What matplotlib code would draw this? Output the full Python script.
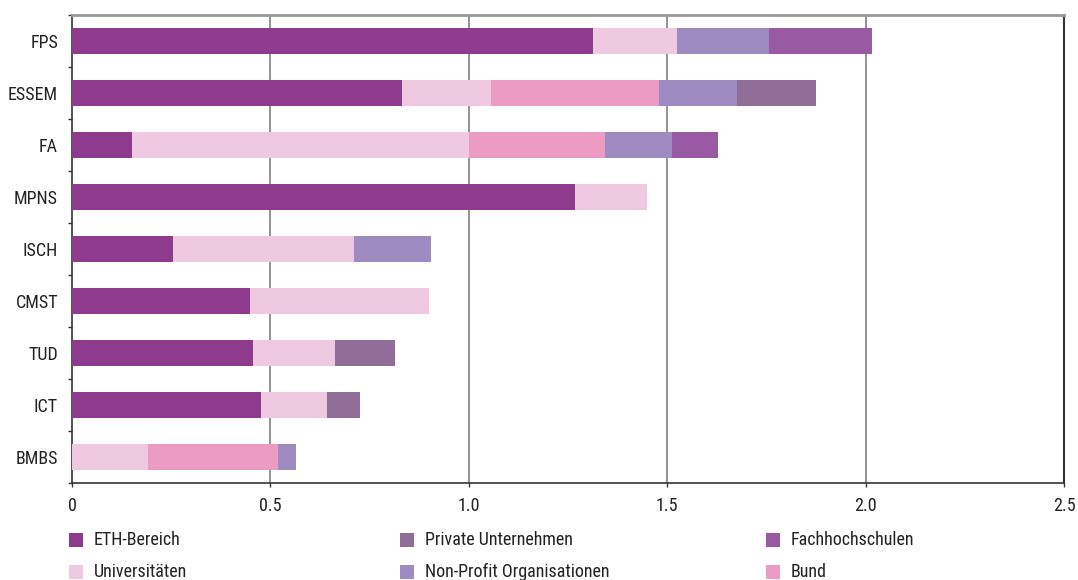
import matplotlib
matplotlib.use("Agg")
import matplotlib.pyplot as plt
from matplotlib.patches import Rectangle
from matplotlib import font_manager as fm
import numpy as np
import os

categories = ["FPS", "ESSEM", "FA", "MPNS", "ISCH", "CMST", "TUD", "ICT", "BMBS"]

series_names = ["ETH-Bereich", "Universitäten", "Bund", "Non-Profit Organisationen",
                "Private Unternehmen", "Fachhochschulen"]
eth        = [1.312, 0.831, 0.151, 1.267, 0.254, 0.448, 0.456, 0.476, 0.000]
uni        = [0.213, 0.224, 0.849, 0.182, 0.456, 0.451, 0.206, 0.167, 0.192]
bund       = [0.000, 0.425, 0.343, 0.000, 0.000, 0.000, 0.000, 0.000, 0.327]
nonprofit  = [0.232, 0.197, 0.170, 0.000, 0.194, 0.000, 0.000, 0.000, 0.045]
private    = [0.000, 0.197, 0.000, 0.000, 0.000, 0.000, 0.152, 0.082, 0.000]
fh         = [0.259, 0.000, 0.116, 0.000, 0.000, 0.000, 0.000, 0.000, 0.000]

colors = ["#8e3b8e", "#efc9e0", "#ec9cc3", "#9d8bc1", "#916e98", "#9a5aa3"]
series = [eth, uni, bund, nonprofit, private, fh]

xticks = [0, 0.5, 1.0, 1.5, 2.0, 2.5]
xticklabels = ["0", "0.5", "1.0", "1.5", "2.0", "2.5"]

# ---- pick a condensed sans font if one is installed ----
prefs = ["liberationsansnarrow-regular", "robotocondensed-regular", "robotocondensed-light",
         "dejavusanscondensed.", "notosans-condensed.", "notosans-condensed",
         "opensans-condensed", "opensans_condensed-regular", "lato-condensed"]
files = [f.fname for f in fm.fontManager.ttflist]
chosen = None
for p in prefs:
    for fn in files:
        b = os.path.basename(fn).lower()
        if b.startswith(p) and "bold" not in b and "italic" not in b and "oblique" not in b:
            chosen = fn
            break
    if chosen:
        break
if chosen is None:
    for fn in files:
        b = os.path.basename(fn).lower()
        if ("condensed" in b or "narrow" in b) and not any(k in b for k in ["bold", "italic", "oblique", "mono", "serif", "black", "semi", "extra", "thin", "medium"]):
            chosen = fn
            break

if chosen:
    fp = fm.FontProperties(fname=chosen, size=13)
    fsize = 13
else:
    fp = fm.FontProperties(family="DejaVu Sans", size=10.5)
    fsize = 10.5

fig = plt.figure(figsize=(10.78, 5.80), dpi=100)
ax = fig.add_axes([72/1078, (580-483)/580, (1064-72)/1078, (483-15)/580])

y = np.arange(len(categories))
left = np.zeros(len(categories))
for vals, col, name in zip(series, colors, series_names):
    v = np.array(vals)
    ax.barh(y, v, left=left, height=0.51, color=col, edgecolor='none', label=name, zorder=3)
    left = left + v

ax.set_xlim(0, 2.5)
ax.set_ylim(len(categories) - 0.5, -0.5)

ax.set_xticks(xticks)
ax.set_xticklabels(xticklabels, fontproperties=fp, color='#222222')
ax.set_yticks(y)
ax.set_yticklabels(categories, fontproperties=fp, color='#222222')
ax.set_yticks(np.arange(-0.5, len(categories), 1.0), minor=True)
ax.tick_params(axis='y', which='major', length=0, pad=10)
ax.tick_params(axis='y', which='minor', length=3, width=1, color='#333333', direction='out')
ax.tick_params(axis='x', which='major', length=3, width=1, color='#333333', pad=7)

for xv in [0.5, 1.0, 1.5, 2.0]:
    ax.axvline(xv, color='#808080', lw=1.2, zorder=1)

ax.spines['left'].set_color('#333333')
ax.spines['left'].set_linewidth(1.2)
ax.spines['bottom'].set_color('#333333')
ax.spines['bottom'].set_linewidth(1.2)
ax.spines['right'].set_color('#333333')
ax.spines['right'].set_linewidth(1.5)
ax.spines['top'].set_color('#999999')
ax.spines['top'].set_linewidth(2)

# Legend (3 columns, 2 rows)
legend_layout = [
    (69, 540, "ETH-Bereich", colors[0]),
    (69, 572, "Universitäten", colors[1]),
    (400, 540, "Private Unternehmen", colors[4]),
    (400, 572, "Non-Profit Organisationen", colors[3]),
    (766, 540, "Fachhochschulen", colors[5]),
    (766, 572, "Bund", colors[2]),
]
W, H = 1078.0, 580.0
for px, py, label, col in legend_layout:
    fig.patches.append(Rectangle((px / W, (H - py - 7) / H), 14 / W, 14 / H,
                                 transform=fig.transFigure, facecolor=col,
                                 edgecolor='none'))
    fig.text((px + 25) / W, (H - py) / H, label, fontproperties=fp, color='#222222',
             va='center', ha='left')

fig.savefig("out.png", dpi=100)
